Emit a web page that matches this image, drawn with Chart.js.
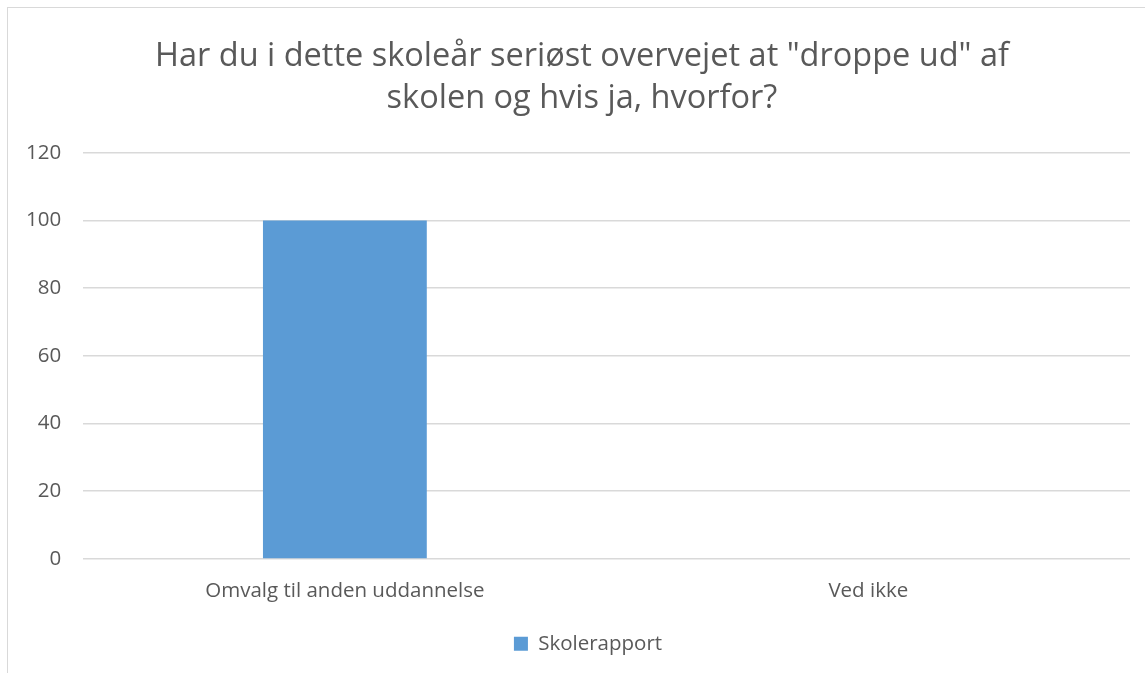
<!DOCTYPE html>
<html>
<head>
<meta charset="utf-8">
<script src="https://cdn.jsdelivr.net/npm/chart.js@4/dist/chart.umd.min.js"></script>
<style>
  html, body { margin: 0; padding: 0; background: #fff; overflow: hidden; }
  .frame { position: absolute; left: 7px; top: 7px; width: 1200px; height: 720px; border: 1px solid #d9d9d9; }
  .wrap { position: absolute; left: 0; top: 0; width: 1145px; height: 673px; }
</style>
</head>
<body>
<div class="frame"></div>
<div class="wrap"><canvas id="chart"></canvas></div>
<script>
const categories = ['Omvalg til anden uddannelse', 'Ved ikke'];
const skolerapport = [100, 0];
const titleLines = ['Har du i dette skoleår seriøst overvejet at "droppe ud" af', 'skolen og hvis ja, hvorfor?'];

const font = '"Open Sans", "Noto Sans", sans-serif';
const textColor = '#595959';
const gridColor = '#d9d9d9';

// title and legend sit centred on the whole chart frame, a bit right of the canvas centre
const centreShift = {
  id: 'centreShift',
  afterLayout(chart) {
    const t = chart.titleBlock;
    if (t) { t.left += 15; t.right += 15; }
    const l = chart.legend;
    if (l) { l.left += 21; l.right += 21; }
  },
};

new Chart(document.getElementById('chart'), {
  type: 'bar',
  data: {
    labels: categories,
    datasets: [{
      label: 'Skolerapport',
      data: skolerapport,
      backgroundColor: '#5b9bd5',
      barPercentage: 0.313,
      categoryPercentage: 1,
    }],
  },
  options: {
    responsive: true,
    maintainAspectRatio: false,
    animation: false,
    layout: { padding: { left: 4, right: 15, top: 22, bottom: 9 } },
    plugins: {
      title: {
        display: true,
        text: titleLines,
        color: textColor,
        font: { family: font, size: 32.5, weight: 'normal', lineHeight: 1.29 },
        padding: { top: 14, bottom: 33 },
      },
      legend: {
        position: 'bottom',
        labels: {
          color: textColor,
          font: { family: font, size: 20.5 },
          boxWidth: 14,
          boxHeight: 14,
          padding: 18,
        },
      },
      tooltip: { enabled: false },
    },
    scales: {
      x: {
        grid: { display: false },
        border: { display: false },
        ticks: { color: textColor, font: { family: font, size: 20.5 }, padding: 12 },
      },
      y: {
        min: 0,
        max: 120,
        ticks: { stepSize: 20, color: textColor, font: { family: font, size: 20.5 }, padding: 22 },
        grid: { color: gridColor, lineWidth: 1.5, drawTicks: false },
        border: { display: false },
      },
    },
  },
  plugins: [centreShift],
});
</script>
</body>
</html>
